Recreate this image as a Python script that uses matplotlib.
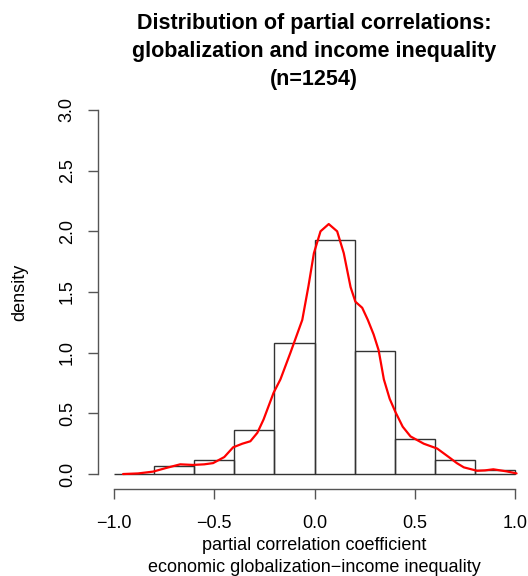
import numpy as np
import matplotlib
matplotlib.use('Agg')
import matplotlib.pyplot as plt

plt.rcParams['font.family'] = ['Liberation Sans', 'DejaVu Sans']

# histogram: bin edges and counts (n=1254, bin width 0.2)
bin_edges = [-1.0, -0.8, -0.6, -0.4, -0.2, 0.0, 0.2, 0.4, 0.6, 0.8, 1.0]
counts = [1, 16, 28, 90, 270, 483, 255, 73, 30, 8]
n_total = 1254

# kernel density estimate
kde_x = [-0.955, -0.88, -0.805, -0.74, -0.67, -0.606, -0.55, -0.506, -0.45, -0.406,
         -0.36, -0.32, -0.285, -0.254, -0.204, -0.17, -0.12, -0.061, -0.03, -0.003,
         0.03, 0.071, 0.113, 0.146, 0.18, 0.204, 0.238, 0.266, 0.295, 0.32, 0.346,
         0.375, 0.404, 0.44, 0.479, 0.545, 0.612, 0.645, 0.678, 0.71, 0.745, 0.811,
         0.85, 0.892, 0.958, 1.008]
kde_y = [0.0, 0.005, 0.02, 0.05, 0.08, 0.075, 0.08, 0.09, 0.14, 0.22,
         0.25, 0.27, 0.34, 0.45, 0.67, 0.78, 1.0, 1.27, 1.55, 1.82,
         2.0, 2.06, 2.0, 1.82, 1.54, 1.42, 1.37, 1.27, 1.15, 1.02, 0.78,
         0.62, 0.51, 0.39, 0.31, 0.25, 0.21, 0.17, 0.13, 0.09, 0.055, 0.027,
         0.03, 0.039, 0.022, 0.005]

title_lines = ['Distribution of partial correlations:',
               'globalization and income inequality',
               '(n=1254)']
xlabel_lines = ['partial correlation coefficient',
                'economic globalization\u2212income inequality']

width = bin_edges[1] - bin_edges[0]
density = [c / (n_total * width) for c in counts]

W, H = 528, 576
fig = plt.figure(figsize=(W / 100, H / 100), dpi=100)
ax = fig.add_axes([98 / W, 87.4 / H, 433 / W, 393.2 / H])

ax.bar(bin_edges[:-1], density, width=width, align='edge', fill=False,
       edgecolor='#333333', linewidth=1.0)
ax.plot(kde_x, kde_y, color='red', linewidth=1.6, solid_capstyle='round')

ax.set_xlim(-1.08, 1.08)
ax.set_ylim(-0.12, 3.12)

for s in ['top', 'right']:
    ax.spines[s].set_visible(False)
ax.spines['left'].set_bounds(0, 3)
ax.spines['bottom'].set_bounds(-1, 1)
for s in ['left', 'bottom']:
    ax.spines[s].set_color('#555555')
    ax.spines[s].set_linewidth(1.0)

ax.set_xticks([-1.0, -0.5, 0.0, 0.5, 1.0])
ax.set_xticklabels(['\u22121.0', '\u22120.5', '0.0', '0.5', '1.0'])
ax.set_yticks([0.0, 0.5, 1.0, 1.5, 2.0, 2.5, 3.0])
ax.set_yticklabels(['0.0', '0.5', '1.0', '1.5', '2.0', '2.5', '3.0'])
ax.tick_params(axis='both', length=7, width=1.0, color='#555555',
               labelsize=13, labelcolor='black')
ax.tick_params(axis='x', pad=12)
ax.tick_params(axis='y', pad=9)
for lab in ax.get_yticklabels():
    lab.set_rotation(90)
    lab.set_va('center')
    lab.set_ha('right')

for i, line in enumerate(title_lines):
    fig.text(314 / W, 1 - (23 + 28.5 * i) / H, line, ha='center', va='center',
             fontsize=15.5, fontweight='bold')
for i, line in enumerate(xlabel_lines):
    fig.text(314 / W, 1 - (545 + 22 * i) / H, line, ha='center', va='center',
             fontsize=13)
fig.text(20 / W, 1 - 292 / H, 'density', rotation=90,
         ha='center', va='center', fontsize=13)

fig.savefig('out.png', dpi=100)
